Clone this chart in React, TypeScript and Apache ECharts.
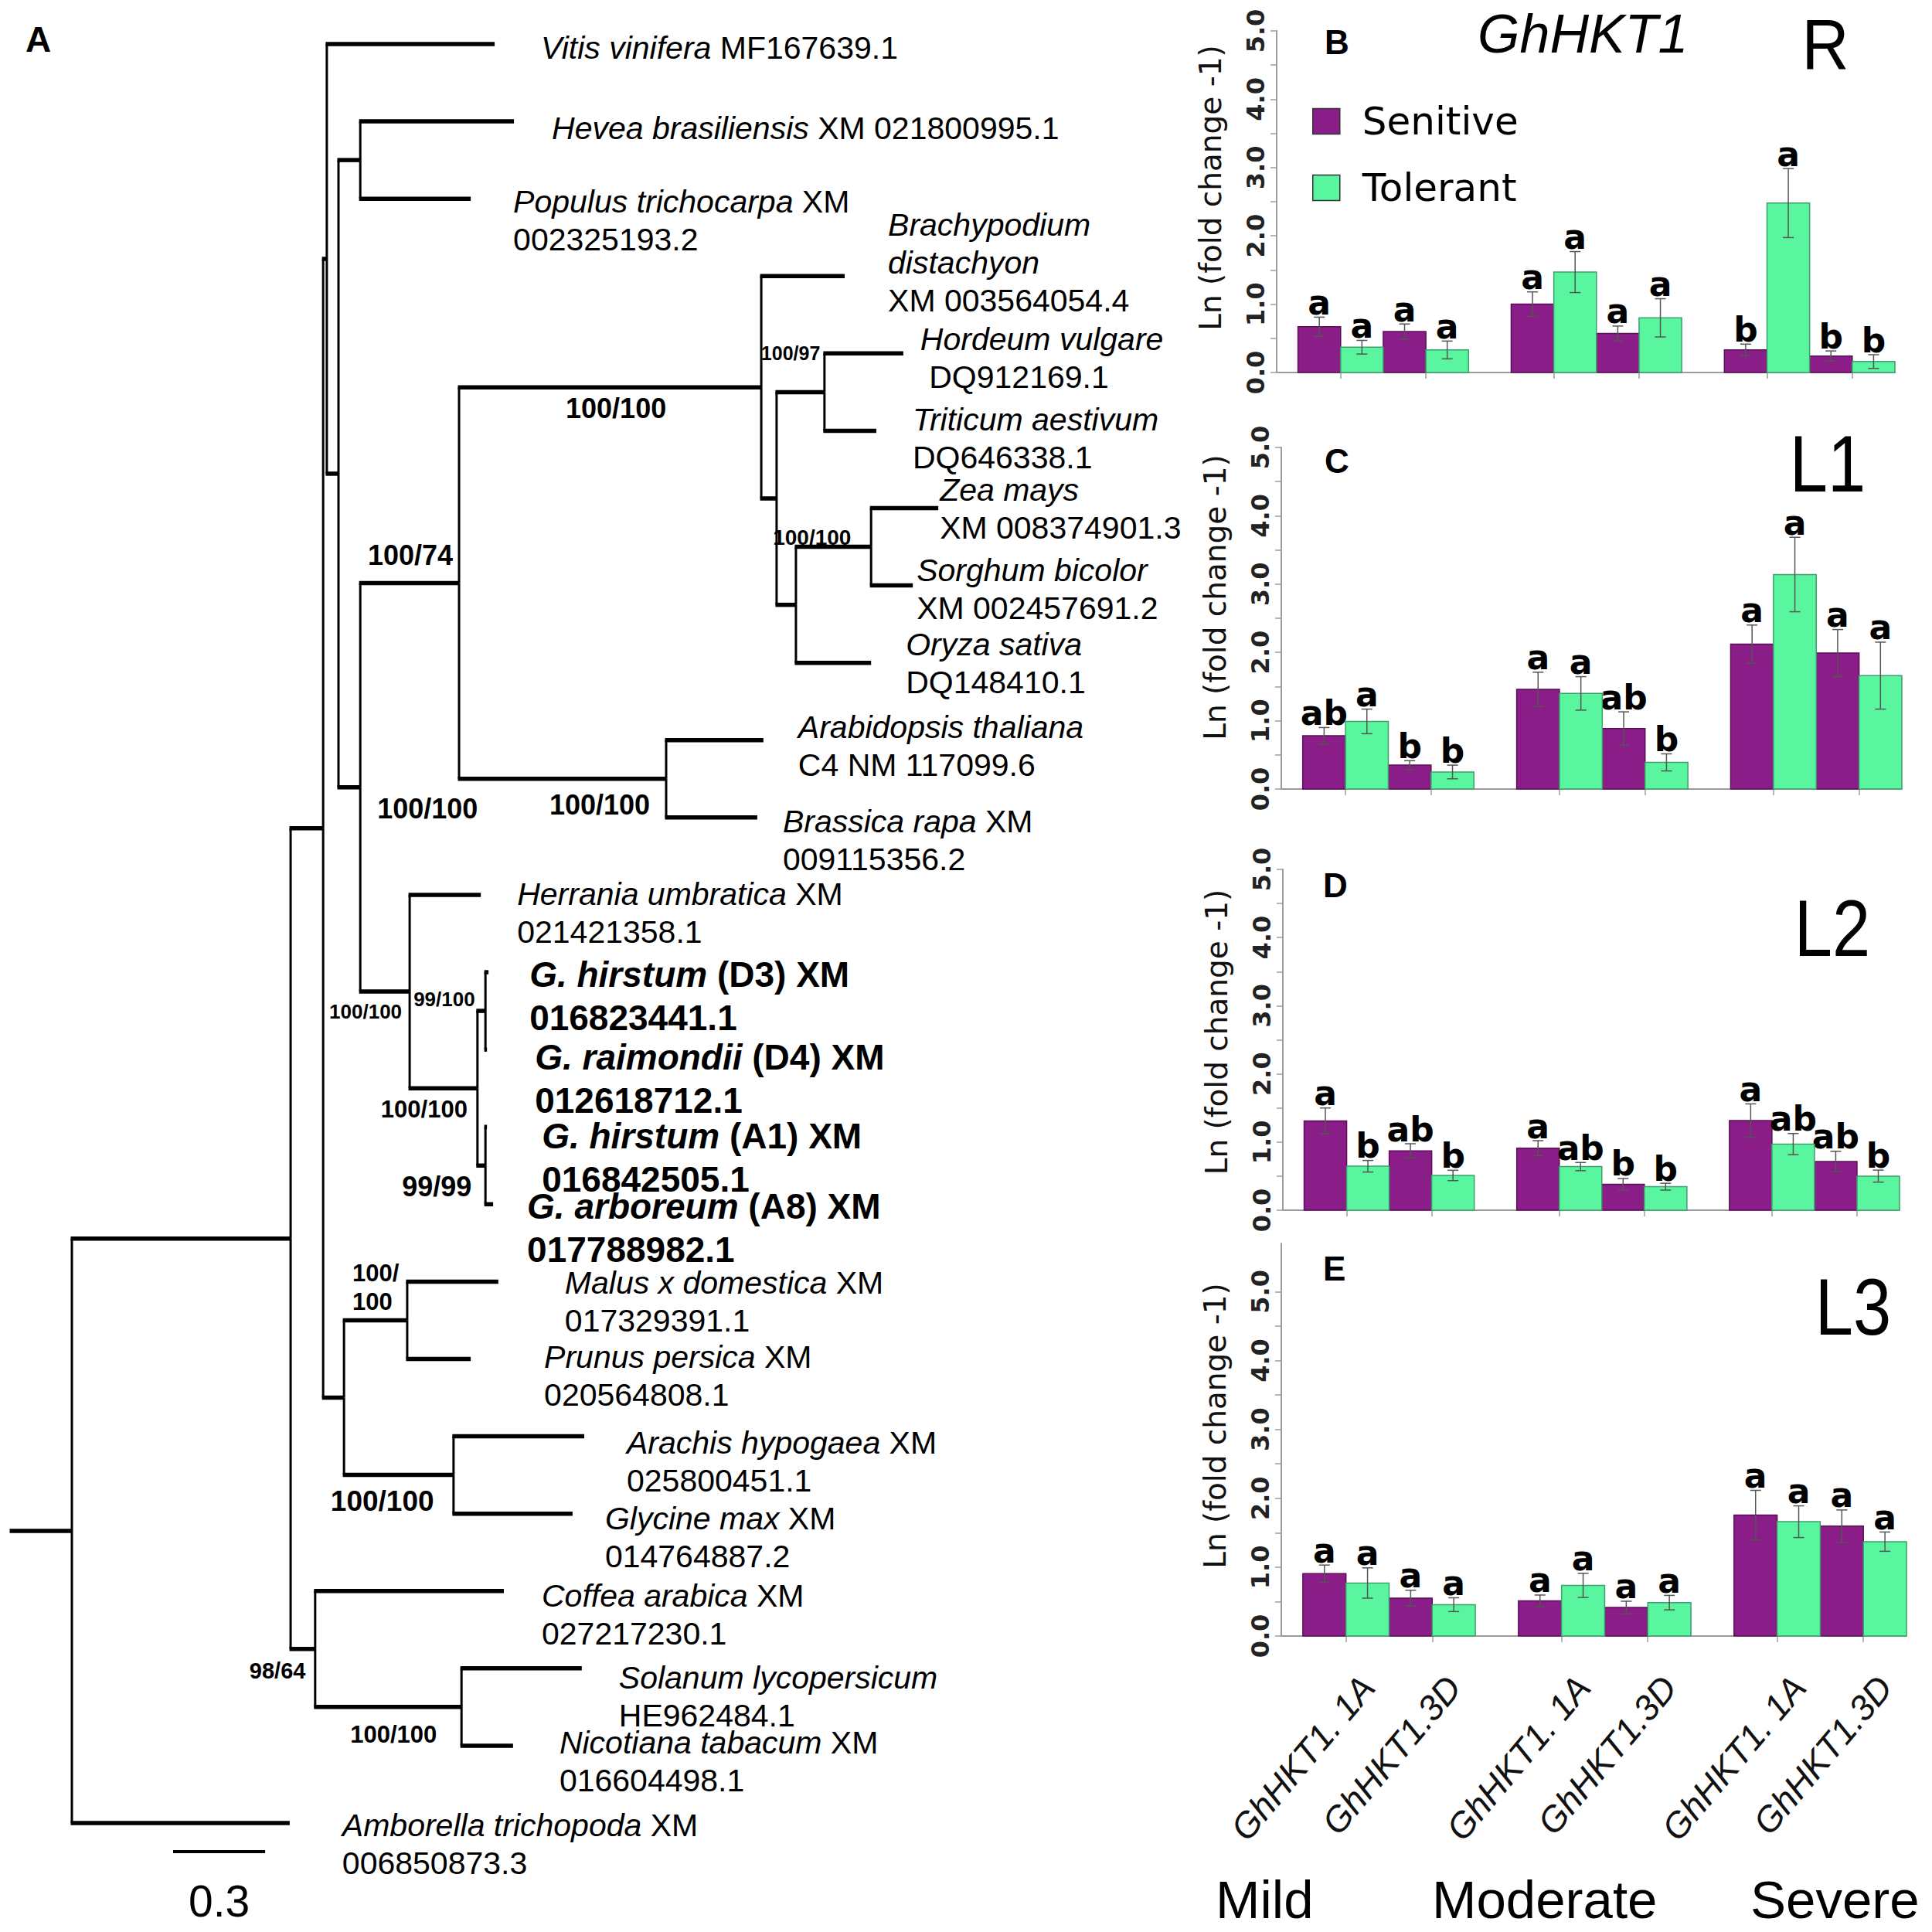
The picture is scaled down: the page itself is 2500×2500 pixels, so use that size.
import React, { useEffect, useRef } from "react";
import * as echarts from "echarts";

// ================= DATA =================
// Bar panels: order = Mild-1A, Mild-3D, Moderate-1A, Moderate-3D, Severe-1A, Severe-3D
const CONDITIONS = ["Mild", "Moderate", "Severe"];
const GENES = ["GhHKT1. 1A", "GhHKT1.3D"];
const GENOTYPES = ["Senitive", "Tolerant"];
const PANEL_TAGS = ["B", "C", "D", "E"];
const TISSUES = ["R", "L1", "L2", "L3"];
const TITLE = "GhHKT1";
const Y_NAME = "Ln (fold change -1)";
const Y_TICKS = [0, 0.5, 1, 1.5, 2, 2.5, 3, 3.5, 4, 4.5, 5];
const Y_LABELS = [0, 1, 2, 3, 4, 5];

const R_SENS = [0.67, 0.6, 1.0, 0.57, 0.33, 0.24];
const R_SENS_ERR = [0.14, 0.11, 0.18, 0.11, 0.085, 0.075];
const R_SENS_LET = ["a", "a", "a", "a", "b", "b"];
const R_TOL = [0.37, 0.33, 1.47, 0.8, 2.48, 0.16];
const R_TOL_ERR = [0.1, 0.13, 0.3, 0.28, 0.505, 0.1];
const R_TOL_LET = ["a", "a", "a", "a", "a", "b"];

const L1_SENS = [0.78, 0.35, 1.46, 0.885, 2.12, 1.99];
const L1_SENS_ERR = [0.12, 0.065, 0.25, 0.245, 0.28, 0.345];
const L1_SENS_LET = ["ab", "b", "a", "ab", "a", "a"];
const L1_TOL = [0.99, 0.25, 1.4, 0.39, 3.14, 1.66];
const L1_TOL_ERR = [0.18, 0.1, 0.245, 0.125, 0.545, 0.49];
const L1_TOL_LET = ["a", "b", "a", "b", "a", "a"];

const L2_SENS = [1.31, 0.87, 0.91, 0.38, 1.315, 0.715];
const L2_SENS_ERR = [0.19, 0.105, 0.11, 0.085, 0.245, 0.15];
const L2_SENS_LET = ["a", "ab", "a", "b", "a", "ab"];
const L2_TOL = [0.645, 0.51, 0.64, 0.345, 0.97, 0.5];
const L2_TOL_ERR = [0.085, 0.076, 0.06, 0.05, 0.155, 0.088];
const L2_TOL_LET = ["b", "b", "ab", "b", "ab", "b"];

const L3_SENS = [0.905, 0.55, 0.51, 0.415, 1.755, 1.595];
const L3_SENS_ERR = [0.125, 0.115, 0.085, 0.09, 0.36, 0.235];
const L3_SENS_LET = ["a", "a", "a", "a", "a", "a"];
const L3_TOL = [0.77, 0.455, 0.735, 0.485, 1.66, 1.37];
const L3_TOL_ERR = [0.22, 0.1, 0.175, 0.105, 0.23, 0.14];
const L3_TOL_LET = ["a", "a", "a", "a", "a", "a"];

const PANELS = [
  { s: R_SENS, se: R_SENS_ERR, sl: R_SENS_LET, t: R_TOL, te: R_TOL_ERR, tl: R_TOL_LET },
  { s: L1_SENS, se: L1_SENS_ERR, sl: L1_SENS_LET, t: L1_TOL, te: L1_TOL_ERR, tl: L1_TOL_LET },
  { s: L2_SENS, se: L2_SENS_ERR, sl: L2_SENS_LET, t: L2_TOL, te: L2_TOL_ERR, tl: L2_TOL_LET },
  { s: L3_SENS, se: L3_SENS_ERR, sl: L3_SENS_LET, t: L3_TOL, te: L3_TOL_ERR, tl: L3_TOL_LET },
];

// Phylogenetic tree: [node, parent, branch length (substitutions/site)]
const TREE: [string, string, number][] = [
  ["root", "", 0.199],
  ["big", "root", 0.713],
  ["q", "big", 0.106],
  ["p1", "q", 0.012],
  ["vitis", "p1", 0.547],
  ["p2", "p1", 0.038],
  ["hp", "p2", 0.071],
  ["hevea", "hp", 0.501],
  ["populus", "hp", 0.36],
  ["p3", "p2", 0.071],
  ["mb", "p3", 0.322],
  ["monocot", "mb", 0.985],
  ["brachy", "monocot", 0.272],
  ["htzso", "monocot", 0.05],
  ["ht", "htzso", 0.156],
  ["hordeum", "ht", 0.257],
  ["triticum", "ht", 0.169],
  ["zso", "htzso", 0.063],
  ["zs", "zso", 0.245],
  ["zea", "zs", 0.219],
  ["sorghum", "zs", 0.136],
  ["oryza", "zso", 0.245],
  ["brassicaceae", "mb", 0.675],
  ["arabidopsis", "brassicaceae", 0.317],
  ["brassica", "brassicaceae", 0.297],
  ["hg", "p3", 0.161],
  ["herrania", "hg", 0.232],
  ["goss", "hg", 0.221],
  ["gd", "goss", 0.026],
  ["ghD3", "gd", 0.01],
  ["grD4", "gd", 0.005],
  ["ga", "goss", 0.026],
  ["ghA1", "ga", 0.005],
  ["gaA8", "ga", 0.025],
  ["rosid", "q", 0.068],
  ["mp", "rosid", 0.206],
  ["malus", "mp", 0.297],
  ["prunus", "mp", 0.207],
  ["ag", "rosid", 0.357],
  ["arachis", "ag", 0.426],
  ["glycine", "ag", 0.388],
  ["coffeaClade", "big", 0.08],
  ["coffea", "coffeaClade", 0.615],
  ["sn", "coffeaClade", 0.477],
  ["solanum", "sn", 0.392],
  ["nicotiana", "sn", 0.168],
  ["amborella", "root", 0.71],
];

const LEAF_LABELS: Record<string, string> = {
  vitis: "{i|Vitis vinifera} {n|MF167639.1}",
  hevea: "{i|Hevea brasiliensis} {n|XM 021800995.1}",
  populus: "{i|Populus trichocarpa} {n|XM}\n{n|002325193.2}",
  brachy: "{i|Brachypodium}\n{i|distachyon}\n{n|XM 003564054.4}",
  hordeum: "{i|Hordeum vulgare}\n{n| DQ912169.1}",
  triticum: "{i|Triticum aestivum}\n{n|DQ646338.1}",
  zea: "{i|Zea mays}\n{n|XM 008374901.3}",
  sorghum: "{i|Sorghum bicolor}\n{n|XM 002457691.2}",
  oryza: "{i|Oryza sativa}\n{n|DQ148410.1}",
  arabidopsis: "{i|Arabidopsis thaliana}\n{n|C4 NM 117099.6}",
  brassica: "{i|Brassica rapa} {n|XM}\n{n|009115356.2}",
  herrania: "{i|Herrania umbratica} {n|XM}\n{n|021421358.1}",
  ghD3: "{bi|G. hirstum} {b|(D3) XM}\n{b|016823441.1}",
  grD4: "{bi|G. raimondii} {b|(D4) XM}\n{b|012618712.1}",
  ghA1: "{bi|G. hirstum} {b|(A1) XM}\n{b|016842505.1}",
  gaA8: "{bi|G. arboreum} {b|(A8) XM}\n{b|017788982.1}",
  malus: "{i|Malus x domestica} {n|XM}\n{n|017329391.1}",
  prunus: "{i|Prunus persica} {n|XM}\n{n|020564808.1}",
  arachis: "{i|Arachis hypogaea} {n|XM}\n{n|025800451.1}",
  glycine: "{i|Glycine max} {n|XM}\n{n|014764887.2}",
  coffea: "{i|Coffea arabica} {n|XM}\n{n|027217230.1}",
  solanum: "{i|Solanum lycopersicum}\n{n|HE962484.1}",
  nicotiana: "{i|Nicotiana tabacum} {n|XM}\n{n|016604498.1}",
  amborella: "{i|Amborella trichopoda} {n|XM}\n{n|006850873.3}",
};
const BOLD_LEAVES = ["ghD3", "grD4", "ghA1", "gaA8"];

const BOOTSTRAP: [string, string][] = [
  ["monocot", "100/100"],
  ["ht", "100/97"],
  ["zs", "100/100"],
  ["mb", "100/74"],
  ["p3", "100/100"],
  ["brassicaceae", "100/100"],
  ["gd", "99/100"],
  ["hg", "100/100"],
  ["goss", "100/100"],
  ["ga", "99/99"],
  ["mp", "100/\n100"],
  ["ag", "100/100"],
  ["coffeaClade", "98/64"],
  ["sn", "100/100"],
];
const SCALE_BAR_LENGTH = 0.3;
const SCALE_BAR_TEXT = "0.3";

// ================= LAYOUT / STYLE =================
const TREE_FONT = '"Liberation Sans", Arial, Helvetica, sans-serif';
const PANEL_FONT = '"DejaVu Sans", Verdana, sans-serif';
const PURPLE = "#8a1d87";
const GREEN = "#5af59f";
const PURPLE_EDGE = "#5a0f57";
const GREEN_EDGE = "#3f9e6e";
const AXIS_GRAY = "#9c9c9c";

const TREE_GRID = { left: 14, top: 57, width: 1588, height: 2302 };
const TREE_X_MAX = 4;
const TREE_Y_MAX = 23;
const SCALE_BAR_POS = [0.529, 23.37];

// label offsets from leaf tip (px): [dx, dy of first-line centre]
const LEAF_OFFSET: Record<string, [number, number]> = {
  vitis: [60, 5], hevea: [49, 9], populus: [55, 4], brachy: [56, -66],
  hordeum: [22, -18], triticum: [47, -14], zea: [2, -24], sorghum: [5, -20],
  oryza: [45, -24], arabidopsis: [45, -17], brassica: [33, 5], herrania: [47, -1],
  ghD3: [53, 3], grD4: [62, 10], ghA1: [71, 12], gaA8: [44, 3],
  malus: [86, 2], prunus: [95, -2], arachis: [55, 8], glycine: [42, 6],
  coffea: [49, 6], solanum: [48, 12], nicotiana: [60, -4], amborella: [68, 3],
};
// bootstrap label: [dx of left edge, dy of first-line centre, font size]
const BOOT_OFFSET: Record<string, [number, number, number]> = {
  monocot: [-253, 27, 36], ht: [-82, -50, 25], zs: [-127, -12, 28], mb: [-118, -36, 36],
  p3: [22, 28, 36], brassicaceae: [-151, 34, 36], gd: [-93, -15, 26], hg: [-104, 26, 26],
  goss: [-125, 27, 31], ga: [-108, 27, 36], mp: [-71, -61, 31], ag: [-159, 34, 37],
  coffeaClade: [-85, 28, 29], sn: [-144, 36, 31],
};

const PANEL_GRID = [
  { left: 1652, top: 40, width: 800, height: 442, max: 5, nameShift: 36 },
  { left: 1658, top: 579, width: 803, height: 442, max: 5, nameShift: 54 },
  { left: 1660, top: 1125, width: 798, height: 441, max: 5, nameShift: 20 },
  { left: 1658, top: 1609, width: 809, height: 508, max: 5.7, nameShift: 36 },
];
const SLOT_MAX = 14.5;
const TAG_POS = [[1714, 54], [1714, 596], [1712, 1145], [1712, 1641]];
const TISSUE_POS = [[2362, 58, 92, 0.92], [2365, 600, 104, 0.85], [2371, 1201, 104, 0.85], [2398, 1691, 104, 0.85]];
const COND_POS = [[1573, 2458], [1853, 2458], [2265, 2458]];

// slot positions on the panel x axis (one unit = one bar width)
const slotCenter = (i: number, t: number) => Math.floor(i / 2) * 5 + (i % 2) * 2 + t + 1;
const GENE_TICKS = [0, 1, 2, 3, 4, 5].map((i) => slotCenter(i, 0) + 0.5);
const GENE_LABEL_POS = [0, 1, 2, 3, 4, 5].map((i) => slotCenter(i, 1));
const geneLabelAt = (v: number) => {
  const k = GENE_LABEL_POS.indexOf(v);
  return k < 0 ? "" : GENES[k % 2];
};

function buildTree() {
  const nodes: Record<string, any> = {};
  const order: any[] = [];
  for (const [id, parent, bl] of TREE) {
    const p = parent ? nodes[parent] : null;
    const n = { id, parent: p, depth: (p ? p.depth : 0) + bl, children: [] as any[], y: 0 };
    nodes[id] = n;
    order.push(n);
    if (p) p.children.push(n);
  }
  let leaf = 0;
  const place = (n: any) => {
    if (!n.children.length) {
      n.y = leaf++;
      return;
    }
    n.children.forEach(place);
    n.y = (n.children[0].y + n.children[n.children.length - 1].y) / 2;
  };
  place(nodes.root);
  return { nodes, order };
}

function buildOption() {
  const { nodes, order } = buildTree();
  const branches = order.map((n) => [n.parent ? n.parent.depth : 0, n.parent ? n.parent.y : n.y, n.depth, n.y]);
  const leaves = order.filter((n) => !n.children.length);
  const bootNodes = BOOTSTRAP.map(([id]) => nodes[id]);

  const richStyles = {
    i: { fontStyle: "italic", fontSize: 41, fontFamily: TREE_FONT, lineHeight: 49, color: "#000" },
    n: { fontSize: 41, fontFamily: TREE_FONT, lineHeight: 49, color: "#000" },
    bi: { fontStyle: "italic", fontWeight: "bold", fontSize: 46, fontFamily: TREE_FONT, lineHeight: 56, color: "#000" },
    b: { fontWeight: "bold", fontSize: 46, fontFamily: TREE_FONT, lineHeight: 56, color: "#000" },
  };

  const series: any[] = [];

  // tree branches
  series.push({
    type: "custom",
    xAxisIndex: 0,
    yAxisIndex: 0,
    silent: true,
    clip: false,
    data: branches,
    renderItem: (params: any, api: any) => {
      const a = api.coord([api.value(0), api.value(1)]);
      const b = api.coord([api.value(2), api.value(3)]);
      return {
        type: "group",
        children: [
          { type: "line", shape: { x1: a[0], y1: a[1], x2: a[0], y2: b[1] }, style: { stroke: "#000", lineWidth: 3 } },
          { type: "line", shape: { x1: a[0] - 1.5, y1: b[1], x2: b[0], y2: b[1] }, style: { stroke: "#000", lineWidth: 5.5 } },
        ],
      };
    },
  });

  // leaf labels
  series.push({
    type: "custom",
    xAxisIndex: 0,
    yAxisIndex: 0,
    silent: true,
    clip: false,
    data: leaves.map((n) => [n.depth, n.y]),
    renderItem: (params: any, api: any) => {
      const n = leaves[params.dataIndex];
      const p = api.coord([api.value(0), api.value(1)]);
      const off = LEAF_OFFSET[n.id] || [50, 0];
      const bold = BOLD_LEAVES.indexOf(n.id) >= 0;
      const lh = bold ? 56 : 49;
      return {
        type: "text",
        style: {
          text: LEAF_LABELS[n.id],
          rich: richStyles,
          x: p[0] + off[0],
          y: p[1] + off[1] - lh / 2,
          fontSize: bold ? 46 : 41,
          fontWeight: bold ? "bold" : "normal",
          fontFamily: TREE_FONT,
          lineHeight: lh,
          fill: "#000",
          align: "left",
          verticalAlign: "top",
        },
      };
    },
  });

  // bootstrap labels
  series.push({
    type: "custom",
    xAxisIndex: 0,
    yAxisIndex: 0,
    silent: true,
    clip: false,
    data: bootNodes.map((n) => [n.depth, n.y]),
    renderItem: (params: any, api: any) => {
      const [id, txt] = BOOTSTRAP[params.dataIndex];
      const p = api.coord([api.value(0), api.value(1)]);
      const off = BOOT_OFFSET[id];
      const lh = Math.round(off[2] * 1.2);
      return {
        type: "text",
        style: {
          text: txt,
          x: p[0] + off[0],
          y: p[1] + off[1] - lh / 2,
          fontSize: off[2],
          fontWeight: "bold",
          fontFamily: TREE_FONT,
          lineHeight: lh,
          fill: "#000",
          align: "left",
          verticalAlign: "top",
        },
      };
    },
  });

  // scale bar
  series.push({
    type: "custom",
    xAxisIndex: 0,
    yAxisIndex: 0,
    silent: true,
    clip: false,
    data: [[SCALE_BAR_POS[0], SCALE_BAR_POS[1], SCALE_BAR_LENGTH]],
    renderItem: (params: any, api: any) => {
      const a = api.coord([api.value(0), api.value(1)]);
      const b = api.coord([api.value(0) + api.value(2), api.value(1)]);
      return {
        type: "group",
        children: [
          { type: "line", shape: { x1: a[0], y1: a[1], x2: b[0], y2: b[1] }, style: { stroke: "#000", lineWidth: 4 } },
          {
            type: "text",
            style: {
              text: SCALE_BAR_TEXT, x: (a[0] + b[0]) / 2, y: a[1] + 64, fontSize: 57, fontFamily: TREE_FONT,
              fill: "#000", align: "center", verticalAlign: "middle",
            },
          },
        ],
      };
    },
  });

  // bar panels
  const barSeries = (gi: number, t: number, vals: number[], errs: number[], lets: string[]) => {
    const color = t === 0 ? PURPLE : GREEN;
    const edge = t === 0 ? PURPLE_EDGE : GREEN_EDGE;
    return {
      type: "custom",
      name: GENOTYPES[t],
      xAxisIndex: gi,
      yAxisIndex: gi,
      silent: true,
      clip: false,
      itemStyle: { color },
      data: vals.map((v, i) => [slotCenter(i, t), v, errs[i]]),
      renderItem: (params: any, api: any) => {
        const x = api.value(0), v = api.value(1), e = api.value(2);
        const tl = api.coord([x - 0.5, v]);
        const br = api.coord([x + 0.5, 0]);
        const cx = (tl[0] + br[0]) / 2;
        const yt = api.coord([x, v + e])[1];
        const yb = api.coord([x, v - e])[1];
        const cap = 7;
        return {
          type: "group",
          children: [
            { type: "rect", shape: { x: tl[0], y: tl[1], width: br[0] - tl[0], height: br[1] - tl[1] }, style: { fill: color, stroke: edge, lineWidth: 1.5 } },
            { type: "line", shape: { x1: cx, y1: yt, x2: cx, y2: yb }, style: { stroke: "#555", lineWidth: 1.5 } },
            { type: "line", shape: { x1: cx - cap, y1: yt, x2: cx + cap, y2: yt }, style: { stroke: "#555", lineWidth: 1.5 } },
            { type: "line", shape: { x1: cx - cap, y1: yb, x2: cx + cap, y2: yb }, style: { stroke: "#555", lineWidth: 1.5 } },
            {
              type: "text",
              style: {
                text: lets[params.dataIndex], x: cx, y: yt + 3, fontSize: 44, fontWeight: "bold",
                fontFamily: PANEL_FONT, fill: "#000", align: "center", verticalAlign: "bottom",
              },
            },
          ],
        };
      },
    };
  };
  PANELS.forEach((p, k) => {
    series.push(barSeries(k + 1, 0, p.s, p.se, p.sl));
    series.push(barSeries(k + 1, 1, p.t, p.te, p.tl));
  });

  const grids: any[] = [
    { ...TREE_GRID, containLabel: false, outerBoundsMode: "none" },
    ...PANEL_GRID.map((g) => ({ left: g.left, top: g.top, width: g.width, height: g.height, containLabel: false, outerBoundsMode: "none" })),
  ];
  const xAxes: any[] = [
    { type: "value", gridIndex: 0, min: 0, max: TREE_X_MAX, show: false },
    ...PANEL_GRID.map((g, k) => ({
      type: "value",
      gridIndex: k + 1,
      min: 0,
      max: SLOT_MAX,
      axisLine: { show: true, lineStyle: { color: AXIS_GRAY, width: 2 } },
      axisTick: { show: true, customValues: GENE_TICKS, length: 8, lineStyle: { color: AXIS_GRAY, width: 1.5 } },
      axisLabel: k === 3
        ? {
            show: true, customValues: GENE_LABEL_POS, rotate: 50, margin: 58, formatter: (v: number) => geneLabelAt(v),
            fontStyle: "italic", fontSize: 46, fontFamily: TREE_FONT, color: "#111",
          }
        : { show: false },
      splitLine: { show: false },
    })),
  ];
  const yAxes: any[] = [
    { type: "value", gridIndex: 0, min: 0, max: TREE_Y_MAX, inverse: true, show: false },
    ...PANEL_GRID.map((g, k) => ({
      type: "value",
      gridIndex: k + 1,
      min: 0,
      max: g.max,
      name: Y_NAME,
      nameLocation: "middle",
      nameRotate: 90,
      nameGap: 66,
      nameTextStyle: { fontSize: 39, fontFamily: PANEL_FONT, color: "#111", padding: [0, 0, 0, g.nameShift] },
      axisLine: { show: true, lineStyle: { color: AXIS_GRAY, width: 2 } },
      axisTick: { show: true, customValues: Y_TICKS, length: 8, lineStyle: { color: AXIS_GRAY, width: 1.5 } },
      axisLabel: {
        show: true, customValues: Y_LABELS, rotate: 90, margin: 11, formatter: (v: number) => v.toFixed(1),
        fontSize: 32, fontWeight: "bold", fontFamily: PANEL_FONT, color: "#222",
      },
      splitLine: { show: false },
    })),
  ];

  const txt = (x: number, y: number, text: string, s: any, extra: any = {}) => ({
    type: "text", x, y, silent: true, ...extra,
    style: { text, x: 0, y: 0, fill: "#000", ...s },
  });
  const L = { align: "left", verticalAlign: "middle", textAlign: "left", textVerticalAlign: "middle" };
  const C = { align: "center", verticalAlign: "middle", textAlign: "center", textVerticalAlign: "middle" };
  const graphics: any[] = [
    txt(33, 51, "A", { fontSize: 46, fontWeight: "bold", fontFamily: TREE_FONT, ...L }),
    txt(1912, 44, TITLE, { fontSize: 70, fontStyle: "italic", fontFamily: TREE_FONT, ...L }),
  ];
  PANEL_TAGS.forEach((t, k) => {
    graphics.push(txt(TAG_POS[k][0], TAG_POS[k][1], t, { fontSize: 44, fontWeight: "bold", fontFamily: TREE_FONT, ...L }));
  });
  TISSUES.forEach((t, k) => {
    const [x, y, fs, sx] = TISSUE_POS[k];
    graphics.push(txt(x, y, t, { fontSize: fs, fontFamily: TREE_FONT, ...C }, { scaleX: sx }));
  });
  CONDITIONS.forEach((c, k) => {
    graphics.push(txt(COND_POS[k][0], COND_POS[k][1], c, { fontSize: 69, fontFamily: TREE_FONT, ...L }));
  });

  return {
    animation: false,
    backgroundColor: "#fff",
    grid: grids,
    xAxis: xAxes,
    yAxis: yAxes,
    legend: {
      orient: "vertical",
      left: 1698,
      top: 132,
      itemWidth: 35,
      itemHeight: 33,
      itemGap: 36,
      icon: "rect",
      selectedMode: false,
      padding: 0,
      itemStyle: { borderColor: "#333", borderWidth: 1.5 },
      textStyle: { fontSize: 50, fontFamily: PANEL_FONT, color: "#000", lineHeight: 50, padding: [0, 0, 0, 24] },
      data: [
        { name: GENOTYPES[0], itemStyle: { color: PURPLE } },
        { name: GENOTYPES[1], itemStyle: { color: GREEN } },
      ],
    },
    graphic: { elements: graphics },
    series,
  };
}

export default function App() {
  const ref = useRef<HTMLDivElement>(null);
  useEffect(() => {
    document.body.style.margin = "0";
    const chart = echarts.init(ref.current as HTMLDivElement, null, { renderer: "svg" });
    chart.setOption(buildOption() as any);
    return () => chart.dispose();
  }, []);
  return <div ref={ref} style={{ width: 2500, height: 2500 }} />;
}
